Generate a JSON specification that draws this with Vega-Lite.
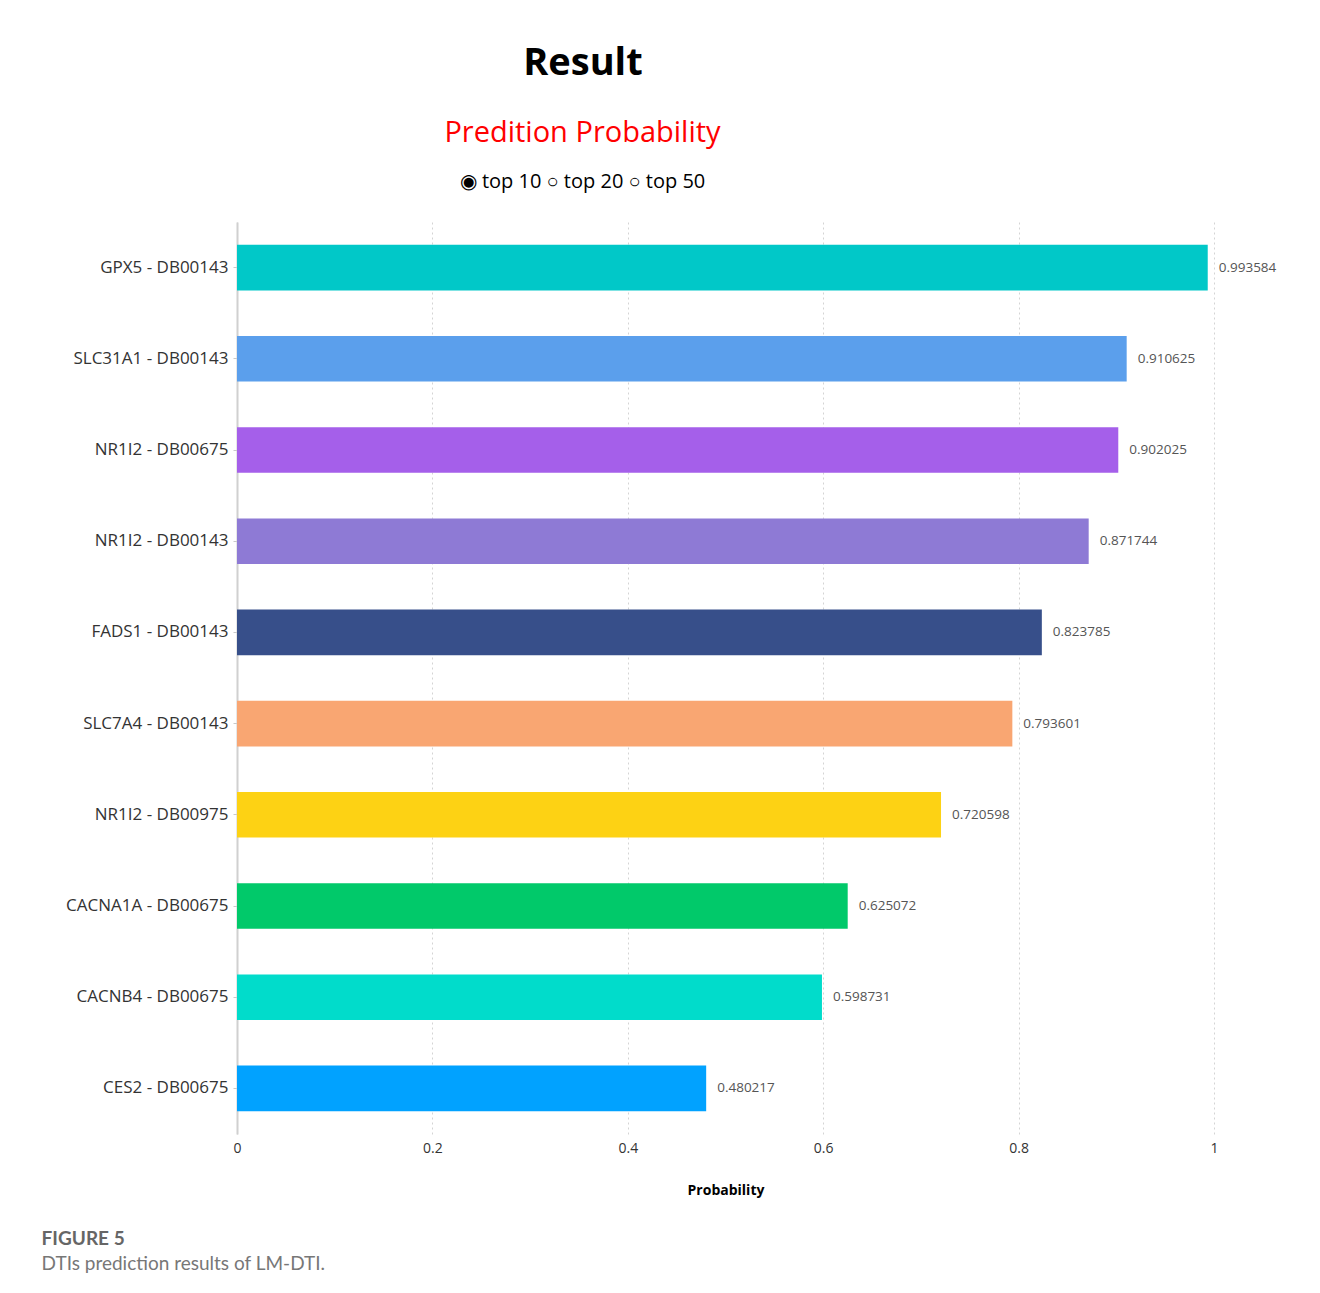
{
  "$schema": "https://vega.github.io/schema/vega-lite/v6.json",
  "padding": {"left": 41, "top": 45, "right": 10, "bottom": 10},
  "background": "white",
  "title": {
    "text": "FIGURE 5",
    "subtitle": "DTIs prediction results of LM-DTI.",
    "orient": "bottom",
    "anchor": "start",
    "frame": "bounds",
    "dx": -24,
    "offset": 33,
    "font": "Lato",
    "fontSize": 19,
    "fontWeight": "bold",
    "color": "#666666",
    "subtitleFont": "Lato",
    "subtitleFontSize": 19,
    "subtitleColor": "#777777",
    "subtitlePadding": 6
  },
  "vconcat": [
    {
      "title": {
        "text": "Result",
        "anchor": "middle",
        "frame": "bounds",
        "dx": -88,
        "font": "Open Sans",
        "fontSize": 38,
        "fontWeight": "bold",
        "color": "black",
        "offset": 36
      },
      "vconcat": [
        {
          "width": 977,
          "height": 912,
          "title": {
            "text": "Predition Probability",
            "subtitle": "◉ top 10  ○ top 20  ○ top 50",
            "anchor": "middle",
            "frame": "group",
            "dx": -143,
            "font": "Open Sans",
            "fontSize": 29,
            "fontWeight": "normal",
            "color": "#ff0000",
            "subtitleFont": "Open Sans",
            "subtitleFontSize": 20,
            "subtitleColor": "black",
            "subtitlePadding": 24,
            "offset": 30
          },
          "data": {
            "values": [
              {"pair": "GPX5 - DB00143", "prob": 0.993584},
              {"pair": "SLC31A1 - DB00143", "prob": 0.910625},
              {"pair": "NR1I2 - DB00675", "prob": 0.902025},
              {"pair": "NR1I2 - DB00143", "prob": 0.871744},
              {"pair": "FADS1 - DB00143", "prob": 0.823785},
              {"pair": "SLC7A4 - DB00143", "prob": 0.793601},
              {"pair": "NR1I2 - DB00975", "prob": 0.720598},
              {"pair": "CACNA1A - DB00675", "prob": 0.625072},
              {"pair": "CACNB4 - DB00675", "prob": 0.598731},
              {"pair": "CES2 - DB00675", "prob": 0.480217}
            ]
          },
          "encoding": {
            "y": {
              "field": "pair",
              "type": "nominal",
              "sort": null,
              "scale": {"paddingInner": 0.5, "paddingOuter": 0.25},
              "axis": {
                "title": null,
                "labelFont": "Open Sans",
                "labelFontSize": 17,
                "labelColor": "#333333",
                "labelPadding": 5,
                "domainColor": "#d0d0d0",
                "domainWidth": 2,
                "tickColor": "#c8c8c8",
                "tickSize": 4,
                "grid": false
              }
            },
            "x": {
              "field": "prob",
              "type": "quantitative",
              "scale": {"domain": [0, 1]},
              "axis": {
                "title": "Probability",
                "titleFont": "Open Sans",
                "titleFontSize": 14,
                "titleFontWeight": "bold",
                "titleColor": "black",
                "titlePadding": 28,
                "values": [0, 0.2, 0.4, 0.6, 0.8, 1],
                "format": ".1~f",
                "labelFlush": false,
                "labelFont": "Open Sans",
                "labelFontSize": 14,
                "labelColor": "#333333",
                "labelPadding": 7,
                "domain": false,
                "ticks": false,
                "grid": true,
                "gridColor": "#d4d4d4",
                "gridDash": [2, 3],
                "gridWidth": 1
              }
            }
          },
          "layer": [
            {
              "mark": {"type": "bar"},
              "encoding": {
                "color": {
                  "field": "pair",
                  "type": "nominal",
                  "legend": null,
                  "scale": {
                    "domain": ["GPX5 - DB00143", "SLC31A1 - DB00143", "NR1I2 - DB00675", "NR1I2 - DB00143", "FADS1 - DB00143", "SLC7A4 - DB00143", "NR1I2 - DB00975", "CACNA1A - DB00675", "CACNB4 - DB00675", "CES2 - DB00675"],
                    "range": ["#01C8C8", "#5B9FEC", "#A55FEA", "#8E7AD5", "#374F8A", "#F9A672", "#FDD214", "#01C96A", "#01DCCB", "#01A2FF"]
                  }
                }
              }
            },
            {
              "mark": {"type": "text", "align": "left", "dx": 11, "font": "Open Sans", "fontSize": 13.5, "color": "#555555"},
              "encoding": {
                "text": {"field": "prob", "type": "quantitative", "format": ".6~f"}
              }
            }
          ]
        }
      ]
    }
  ],
  "config": {
    "view": {"stroke": null}
  }
}
